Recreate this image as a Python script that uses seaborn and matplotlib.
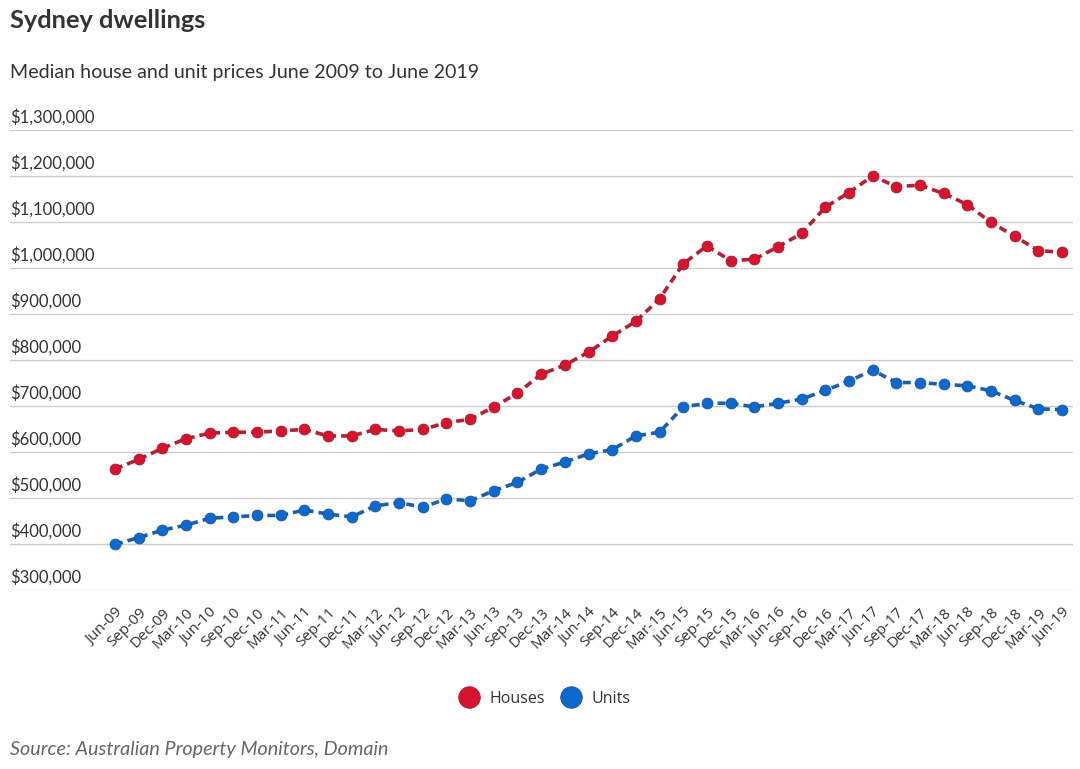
import numpy as np
import pandas as pd
import matplotlib
matplotlib.use("Agg")
import matplotlib.pyplot as plt
from matplotlib.lines import Line2D
import seaborn as sns

quarters = ["Jun-09", "Sep-09", "Dec-09", "Mar-10", "Jun-10", "Sep-10", "Dec-10", "Mar-11",
            "Jun-11", "Sep-11", "Dec-11", "Mar-12", "Jun-12", "Sep-12", "Dec-12", "Mar-13",
            "Jun-13", "Sep-13", "Dec-13", "Mar-14", "Jun-14", "Sep-14", "Dec-14", "Mar-15",
            "Jun-15", "Sep-15", "Dec-15", "Mar-16", "Jun-16", "Sep-16", "Dec-16", "Mar-17",
            "Jun-17", "Sep-17", "Dec-17", "Mar-18", "Jun-18", "Sep-18", "Dec-18", "Mar-19",
            "Jun-19"]

houses = [563000, 584000, 608000, 629000, 641000, 643000, 643000, 646000, 649000, 635000,
          635000, 649000, 646000, 649000, 664000, 671000, 698000, 728000, 769000, 789000,
          817000, 852000, 884000, 933000, 1009000, 1048000, 1016000, 1019000, 1046000, 1075000,
          1132000, 1164000, 1200000, 1177000, 1180000, 1162000, 1138000, 1099000, 1069000,
          1038000, 1034000]

units = [399000, 414000, 430000, 441000, 456000, 459000, 462000, 462000, 474000, 465000,
         459000, 483000, 490000, 480000, 498000, 494000, 516000, 534000, 563000, 578000,
         596000, 605000, 635000, 643000, 698000, 706000, 706000, 698000, 706000, 715000,
         734000, 754000, 778000, 751000, 751000, 747000, 744000, 733000, 712000, 694000,
         692000]

y_ticks = [300000, 400000, 500000, 600000, 700000, 800000, 900000, 1000000, 1100000,
           1200000, 1300000]
series_names = ["Houses", "Units"]

title = "Sydney dwellings"
subtitle = "Median house and unit prices June 2009 to June 2019"
source = "Source: Australian Property Monitors, Domain"

sns.set_theme(style="white")
plt.rcParams["font.family"] = ["Lato", "DejaVu Sans"]

W, H = 1080, 769
fig = plt.figure(figsize=(W / 100, H / 100), dpi=100)
ax = fig.add_axes([10 / W, 1 - 590 / H, 1063 / W, 460 / H])

df = pd.DataFrame({"idx": np.arange(len(quarters)), "Houses": houses, "Units": units})

marker_fill = {"Houses": "#d7142d", "Units": "#0f69cc"}
line_col = {"Houses": "#b51f33", "Units": "#1f5ea8"}
edge_col = {"Houses": "#a8162a", "Units": "#0d55a8"}

for name in series_names:
    sns.lineplot(data=df, x="idx", y=name, ax=ax, color=line_col[name],
                 linewidth=2.6, linestyle=(0, (2.2, 1.4)), marker="o", markersize=7.8,
                 markerfacecolor=marker_fill[name], markeredgecolor=edge_col[name],
                 markeredgewidth=0.6, zorder=3)

step = (1062 - 115) / 40
ax.set_xlim(-(115 - 10) / step, (1073 - 115) / step)
ax.set_ylim(300000, 1300000)

for sp in ax.spines.values():
    sp.set_visible(False)

ax.set_yticks(y_ticks)
ax.yaxis.grid(True, color="#cccccc", linewidth=1.0)
ax.xaxis.grid(False)
ax.tick_params(axis="y", left=False, labelleft=False)
for v in y_ticks:
    ax.annotate(f"${v:,.0f}", xy=(0, v), xycoords=("axes fraction", "data"),
                xytext=(0, 5.5), textcoords="offset points", ha="left", va="baseline",
                fontsize=12, color="#333333")

ax.set_xticks(np.arange(len(quarters)))
ax.set_xticklabels(quarters, rotation=45, ha="right", rotation_mode="anchor",
                   fontsize=11, color="#333333", family=["Open Sans", "DejaVu Sans"])
ax.tick_params(axis="x", bottom=False, pad=5)
ax.set_xlabel("")
ax.set_ylabel("")

fig.text(10 / W, 1 - 28 / H, title, fontsize=18.3, fontweight="bold", color="#333333",
         va="baseline", ha="left")
fig.text(10 / W, 1 - 78 / H, subtitle, fontsize=14.1, color="#333333",
         va="baseline", ha="left")
fig.text(10 / W, 1 - 755 / H, source, fontsize=14.2, style="italic", color="#666666",
         va="baseline", ha="left")

handles = [Line2D([], [], linestyle="none", marker="o", markersize=15.5,
                  markerfacecolor=marker_fill[n], markeredgecolor=edge_col[n],
                  markeredgewidth=0.6) for n in series_names]
leg = fig.legend(handles, series_names, loc="center", bbox_to_anchor=(542 / W, 1 - 699 / H),
                 ncol=2, frameon=False, handletextpad=0.3, columnspacing=0.6,
                 prop={"family": ["Open Sans", "DejaVu Sans"], "size": 11.5})
for t in leg.get_texts():
    t.set_color("#333333")

fig.savefig("out.png", dpi=100)
